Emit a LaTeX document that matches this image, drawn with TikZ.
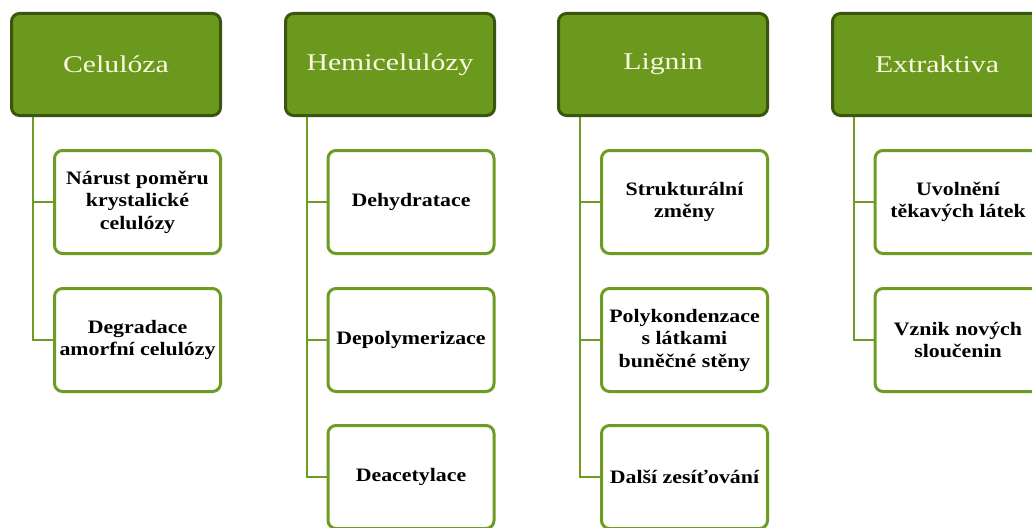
\documentclass[tikz,border=0pt]{standalone}
\usepackage{fontspec}
\setmainfont{Liberation Serif}
\newfontfamily\hfont[FakeStretch=1.24]{Liberation Serif}
\newfontfamily\cfont[FakeStretch=1.15,BoldFont={Liberation Serif Bold},BoldFeatures={FakeStretch=1.15}]{Liberation Serif}
\definecolor{hfill}{HTML}{6A991D}
\definecolor{hborder}{HTML}{3A560E}
\definecolor{cborder}{HTML}{6E9C22}
\definecolor{htext}{HTML}{FBF9E4}
\tikzset{
  head/.style={draw=hborder, line width=3pt, fill=hfill, rounded corners=8pt,
    minimum width=209pt, minimum height=102pt, inner sep=0pt,
    font=\hfont\fontsize{24}{28}\selectfont, text=htext},
  child/.style={draw=cborder, line width=3pt, fill=white, rounded corners=8pt,
    minimum width=166pt, minimum height=103pt, inner sep=0pt, align=center,
    font=\cfont\bfseries\fontsize{19}{22.5}\selectfont, text=black},
  conn/.style={draw=cborder, line width=2pt}
}
\begin{document}
\begin{tikzpicture}[x=1pt,y=-1pt]
\clip (0,0) rectangle (1032,527);
\fill[white] (0,0) rectangle (1032,527);
% headers
\node[head] (h1) at (116,64.5) {Celulóza};
\node[head] (h2) at (390,64.5) {Hemicelulózy};
\node[head] (h3) at (663,64.5) {Lignin};
\node[head] (h4) at (937,64.5) {Extraktiva};
% children
\node[child] (c11) at (137.5,202) {Nárust poměru\\krystalické\\celulózy};
\node[child] (c12) at (137.5,340) {Degradace\\amorfní celulózy};
\node[child] (c21) at (411,202) {Dehydratace};
\node[child] (c22) at (411,340) {Depolymerizace};
\node[child] (c23) at (411,477) {Deacetylace};
\node[child] (c31) at (684.5,202) {Strukturální\\změny};
\node[child] (c32) at (684.5,340) {Polykondenzace\\s látkami\\buněčné stěny};
\node[child] (c33) at (684.5,477) {Další zesíťování};
\node[child] (c41) at (958,202) {Uvolnění\\těkavých látek};
\node[child] (c42) at (958,340) {Vznik nových\\sloučenin};
% connectors
\draw[conn] ([xshift=23pt]h1.south west) |- (c12.west);
\draw[conn] ([xshift=23pt]h1.south west) |- (c11.west);
\draw[conn] ([xshift=23pt]h2.south west) |- (c23.west);
\draw[conn] ([xshift=23pt]h2.south west) |- (c22.west);
\draw[conn] ([xshift=23pt]h2.south west) |- (c21.west);
\draw[conn] ([xshift=23pt]h3.south west) |- (c33.west);
\draw[conn] ([xshift=23pt]h3.south west) |- (c32.west);
\draw[conn] ([xshift=23pt]h3.south west) |- (c31.west);
\draw[conn] ([xshift=23pt]h4.south west) |- (c42.west);
\draw[conn] ([xshift=23pt]h4.south west) |- (c41.west);
\end{tikzpicture}
\end{document}
